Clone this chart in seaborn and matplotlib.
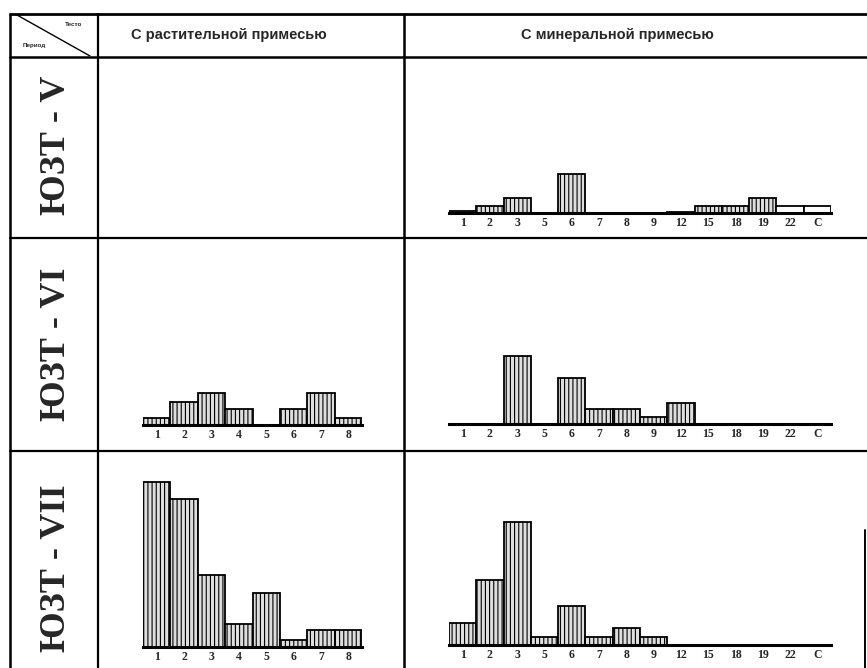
import matplotlib
matplotlib.use('Agg')
import matplotlib.pyplot as plt
from matplotlib.lines import Line2D
import seaborn as sns

# === DONNÉES (hauteurs relatives) ===
periodes = ["ЮЗТ - V", "ЮЗТ - VI", "ЮЗТ - VII"]
colonnes = ["С растительной примесью", "С минеральной примесью"]

classes_rast = ["1", "2", "3", "4", "5", "6", "7", "8"]
classes_min = ["1", "2", "3", "5", "6", "7", "8", "9", "12", "15", "18", "19", "22", "С"]

rast_vi = [1.4, 4.6, 6.4, 3.2, 0, 3.2, 6.4, 1.4]
rast_vii = [33, 29.6, 14.4, 4.6, 10.8, 1.4, 3.4, 3.4]

min_v = [0.3, 1.3, 3.0, 0, 7.8, 0, 0, 0, 0.2, 1.3, 1.3, 3.0, 1.3, 1.3]
min_vi = [0, 0, 13.6, 0, 9.2, 3.0, 3.0, 1.4, 4.2, 0, 0, 0, 0, 0]
min_vii = [4.4, 13, 24.6, 1.6, 7.8, 1.6, 3.4, 1.6, 0, 0, 0, 0, 0, 0]
min_v_blancs = ["22", "С"]  # barres sans hachure

W, H = 867, 668

sns.set_theme(style="white")
plt.rcParams["hatch.color"] = "#4a4a4a"
plt.rcParams["hatch.linewidth"] = 0.8

fig = plt.figure(figsize=(W / 100, H / 100), dpi=100)
fig.patch.set_facecolor("white")


def ligne(x0, y0, x1, y1, lw=1.6):
    fig.add_artist(Line2D([x0 / W, x1 / W], [1 - y0 / H, 1 - y1 / H],
                          color="black", lw=lw, transform=fig.transFigure))


# === GRILLE DU TABLEAU ===
ligne(10, 14, 867, 14, 2)
ligne(10, 57, 867, 57, 1.8)
ligne(10, 238, 867, 238, 1.6)
ligne(10, 451, 867, 451, 1.6)
ligne(10, 14, 10, 668, 1.8)
ligne(98, 14, 98, 668, 1.6)
ligne(404, 14, 404, 668, 1.8)
ligne(865, 530, 865, 668, 1.4)
ligne(17, 15, 90, 56, 1.0)

fig.text(74 / W, 1 - 24 / H, "Тесто", fontsize=4.5, fontweight="bold",
         family="Liberation Sans", ha="center", va="center")
fig.text(34 / W, 1 - 45 / H, "Период", fontsize=4.5, fontweight="bold",
         family="Liberation Sans", ha="center", va="center")

fig.text(229 / W, 1 - 35 / H, colonnes[0], fontsize=10.5, fontweight="bold",
         family="Liberation Sans", ha="center", va="center")
fig.text(617 / W, 1 - 35 / H, colonnes[1], fontsize=10.5, fontweight="bold",
         family="Liberation Sans", ha="center", va="center")

for nom, yb in zip(periodes, [215, 421, 652]):
    fig.text(57 / W, 1 - yb / H, nom, fontsize=26, fontweight="bold",
             family="Liberation Serif", rotation=90, ha="center", va="bottom")


# === HISTOGRAMMES ===
def histo(x0, x1, base, classes, valeurs, blancs=()):
    ax = fig.add_axes([x0 / W, 1 - base / H, (x1 - x0) / W, 170 / H])
    sns.barplot(x=classes, y=valeurs, order=classes, ax=ax, color="#dedede",
                saturation=1, width=1.0, edgecolor="black", linewidth=1.3)
    for patch, c in zip(ax.patches, classes):
        if c in blancs:
            patch.set_facecolor("white")
        else:
            patch.set_hatch("||||")
    ax.set_ylim(0, 34)
    ax.set_facecolor("none")
    for s in ["top", "left", "right"]:
        ax.spines[s].set_visible(False)
    ax.spines["bottom"].set_linewidth(2.2)
    ax.spines["bottom"].set_color("black")
    ax.set_yticks([])
    ax.set_xlabel("")
    ax.set_ylabel("")
    ax.tick_params(axis="x", length=0, pad=3)
    for lab in ax.get_xticklabels():
        lab.set_fontfamily("Liberation Serif")
        lab.set_fontweight("bold")
        lab.set_fontsize(8.5)
    return ax


histo(449, 831, 213, classes_min, min_v, min_v_blancs)
histo(143, 362, 425, classes_rast, rast_vi)
histo(449, 831, 424, classes_min, min_vi)
histo(143, 362, 647, classes_rast, rast_vii)
histo(449, 831, 645, classes_min, min_vii)

plt.savefig("out.png", dpi=100, facecolor="white")
